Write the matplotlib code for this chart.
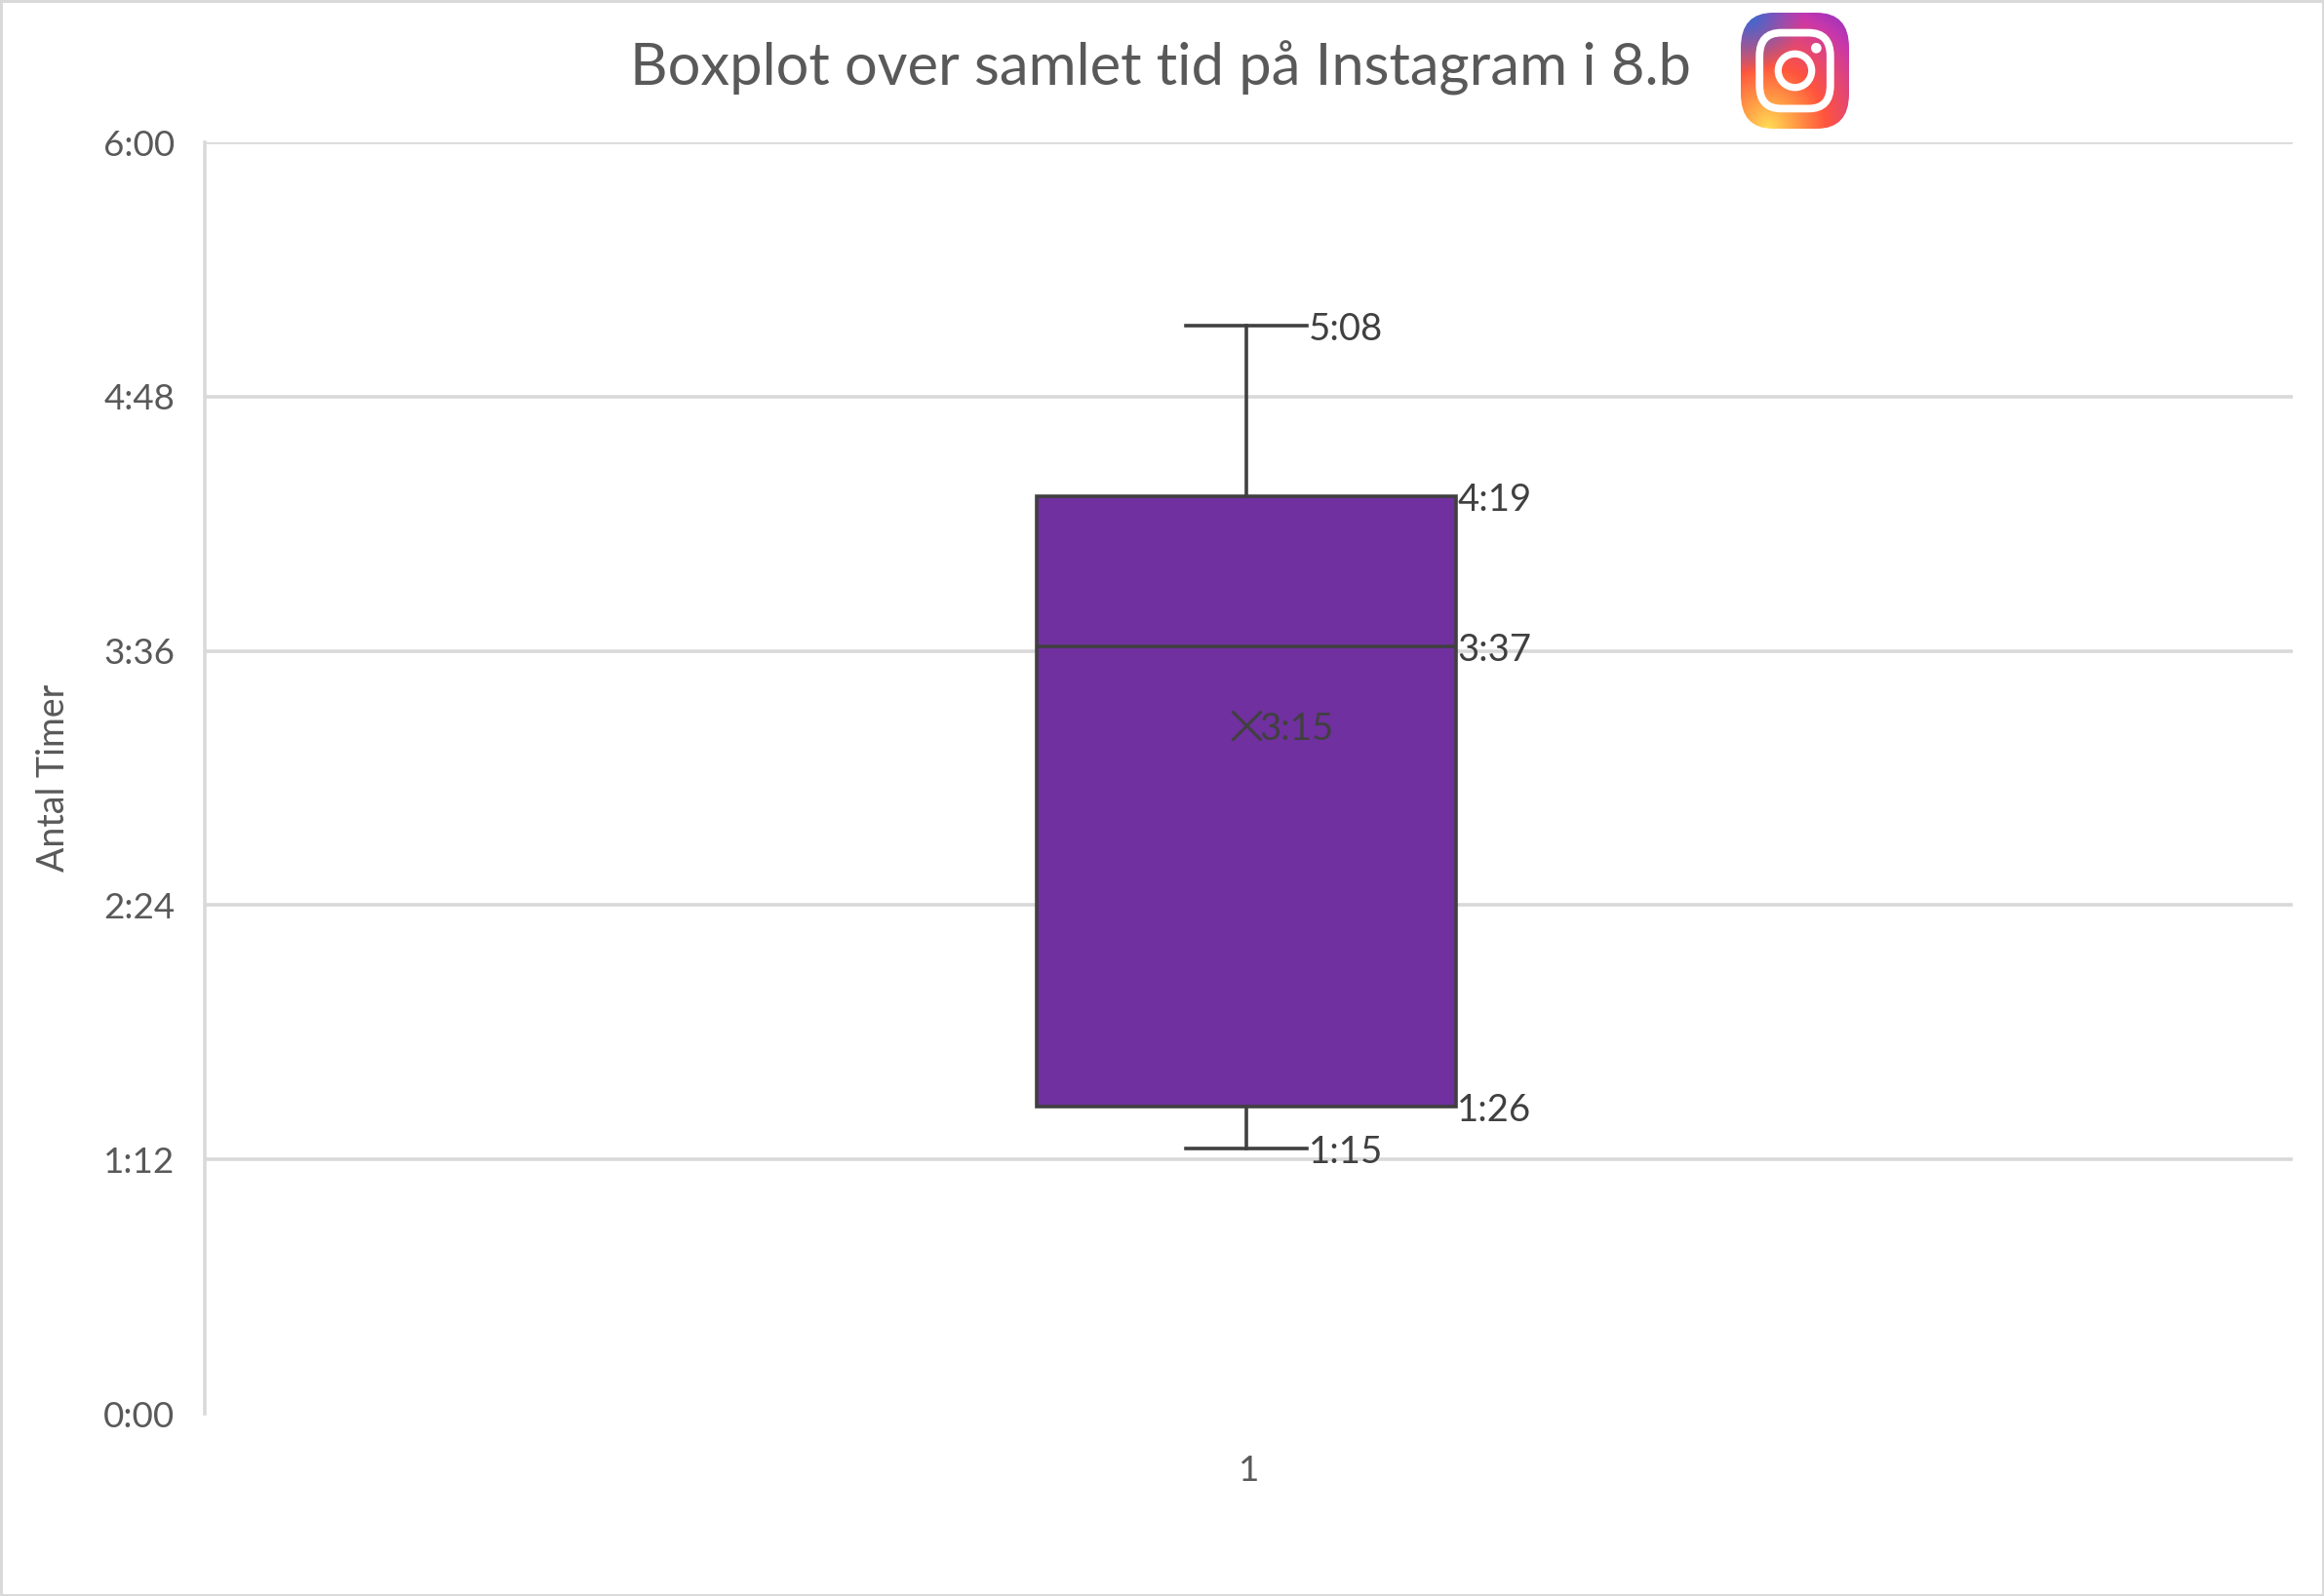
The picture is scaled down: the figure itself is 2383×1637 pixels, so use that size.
import numpy as np
import matplotlib
matplotlib.use("Agg")
import matplotlib.pyplot as plt
from matplotlib.colors import LinearSegmentedColormap
from matplotlib.patches import Ellipse, FancyBboxPatch, Rectangle

# values, h:mm:ss (the labels only show h:mm)
low_whisker = "1:15:00"
q1 = "1:26:50"
median = "3:37:10"
mean = "3:15:00"
q3 = "4:19:50"
high_whisker = "5:08:00"
y_ticks = ["0:00:00", "1:12:00", "2:24:00", "3:36:00", "4:48:00", "6:00:00"]
category = "1"


def to_hours(s):
    h, m, sec = s.split(":")
    return int(h) + int(m) / 60 + int(sec) / 3600


W, H = 2383, 1637
plt.rcParams["font.family"] = ["Lato", "DejaVu Sans"]
GRID = "#D9D9D9"
TXT = "#595959"
DARK = "#404040"

fig = plt.figure(figsize=(W / 100, H / 100), dpi=100)
ax = fig.add_axes([210 / W, 1 - 1450 / H, (2351 - 210) / W, (1450 - 146) / H])

stats = [{
    "whislo": to_hours(low_whisker),
    "q1": to_hours(q1),
    "med": to_hours(median),
    "mean": to_hours(mean),
    "q3": to_hours(q3),
    "whishi": to_hours(high_whisker),
    "fliers": [],
}]
line = dict(color=DARK, linewidth=2.6)
ax.bxp(stats, positions=[1], widths=0.201, patch_artist=True, showmeans=True,
       showfliers=False,
       boxprops=dict(facecolor="#7030A0", edgecolor=DARK, linewidth=2.6),
       medianprops=line, whiskerprops=line, capprops=line,
       capwidths=0.058,
       meanprops=dict(marker="x", markersize=21, markeredgecolor=DARK,
                      markeredgewidth=2.2),
       zorder=3)

ax.set_xlim(0.5012, 1.5012)
ax.set_ylim(0, 6)
ax.set_yticks([to_hours(t) for t in y_ticks])
ax.set_yticklabels([t[:4] for t in y_ticks])
ax.set_xticks([1.0014])
ax.set_xticklabels([category])
ax.tick_params(axis="y", length=0, pad=22, labelsize=26.5, labelcolor=TXT)
ax.tick_params(axis="x", length=0, pad=30, labelsize=26.5, labelcolor=TXT)
ax.grid(axis="y", color=GRID, linewidth=2.6, zorder=0)
ax.yaxis.get_gridlines()[0].set_visible(False)
ax.set_axisbelow(True)
for side in ["top", "right", "bottom"]:
    ax.spines[side].set_visible(False)
ax.spines["left"].set_color(GRID)
ax.spines["left"].set_linewidth(2.6)

# data labels
for val, x, dx in [(high_whisker, 1.03, 0), (q3, 1.1, 2), (median, 1.1, 2),
                   (q1, 1.1, 2), (low_whisker, 1.03, 0), (mean, 1.0, 13)]:
    ax.annotate(val[:4], (x, to_hours(val)), xytext=(dx, -4), textcoords="offset pixels",
                ha="left", va="center", fontsize=27.5, color=DARK, zorder=5)

fig.text(1190 / W, 1 - 70 / H, "Boxplot over samlet tid på Instagram i 8.b",
         ha="center", va="center", fontsize=42.9, color=TXT)
fig.text(55 / W, 1 - 798 / H, "Antal Timer", rotation=90, ha="center", va="center",
         fontsize=27, color=TXT)

# figure border
fig.add_artist(Rectangle((0, 0), 1, 1, transform=fig.transFigure, fill=False,
                         edgecolor=GRID, linewidth=3.5))

# instagram icon
icon = fig.add_axes([1785 / W, 1 - 132 / H, 111 / W, 119 / H])
icon.set_xlim(0, 1)
icon.set_ylim(1, 0)
icon.axis("off")
cmap = LinearSegmentedColormap.from_list(
    "insta", [(0, "#FFDD55"), (0.22, "#FF9A45"), (0.45, "#FF543E"),
              (0.68, "#E0457A"), (0.85, "#C837AB"), (1, "#9A33C0")])
gy, gx = np.mgrid[0:1:200j, 0:1:200j]
r = np.clip(np.hypot(gx - 0.25, gy - 1.0) / 1.2, 0, 1)
rgba = cmap(r)
blue = np.clip(1 - np.hypot(gx - 0.08, gy - 0.02) / 0.5, 0, 1)[..., None]
rgba[..., :3] = rgba[..., :3] * (1 - blue) + np.array([0.22, 0.42, 0.82]) * blue
img = icon.imshow(rgba, extent=(0, 1, 1, 0), aspect="auto", interpolation="bilinear")
clip = FancyBboxPatch((0.22, 0.22), 0.56, 0.56, boxstyle="round,pad=0.22,rounding_size=0.3",
                      transform=icon.transData, facecolor="none", edgecolor="none")
icon.add_patch(clip)
img.set_clip_path(clip)
icon.add_patch(FancyBboxPatch((0.28, 0.28), 0.44, 0.44,
                              boxstyle="round,pad=0.107,rounding_size=0.2",
                              facecolor="none", edgecolor="white", linewidth=5.6))
icon.add_patch(Ellipse((0.5, 0.5), 0.31, 0.29, facecolor="none",
                       edgecolor="white", linewidth=5.2))
icon.add_patch(Ellipse((0.697, 0.305), 0.096, 0.09, facecolor="white", edgecolor="none"))

fig.savefig("out.png", dpi=100, facecolor="white")
